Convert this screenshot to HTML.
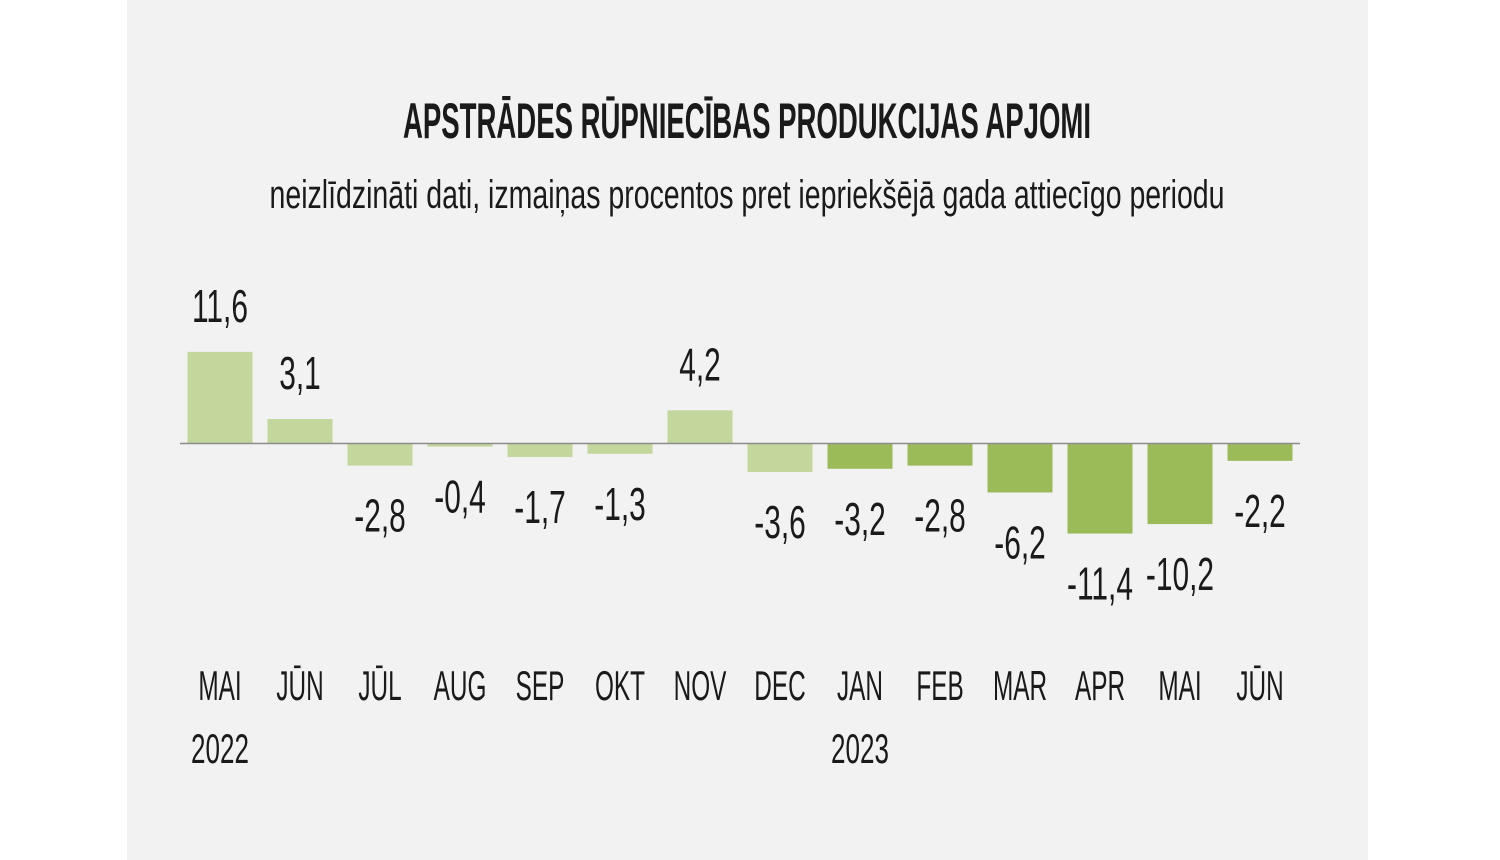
<!DOCTYPE html>
<html><head><meta charset="utf-8"><style>
html,body{margin:0;padding:0;background:#fff;}
svg{display:block;}
text{font-family:"Liberation Sans Narrow","Liberation Sans",sans-serif;fill:#1a1a1a;}
</style></head><body>
<svg id="chart" width="1500" height="860" viewBox="0 0 1500 860">
<rect x="127" y="0" width="1241" height="860" fill="#f2f2f2"/>
<text x="747" y="138" text-anchor="middle" font-size="50" font-weight="bold" textLength="688" lengthAdjust="spacingAndGlyphs">APSTRĀDES RŪPNIECĪBAS PRODUKCIJAS APJOMI</text>
<text x="747" y="208" text-anchor="middle" font-size="40" textLength="955" lengthAdjust="spacingAndGlyphs" fill="#333">neizlīdzināti dati, izmaiņas procentos pret iepriekšējā gada attiecīgo periodu</text>
<g id="bars"></g>
<line x1="180" y1="443.5" x2="1300" y2="443.5" stroke="#8c8c8c" stroke-width="1.5"/>
<g id="labels"></g>
</svg>
<script>
const categories = ["MAI","JŪN","JŪL","AUG","SEP","OKT","NOV","DEC","JAN","FEB","MAR","APR","MAI","JŪN"];
const years = ["2022","","","","","","","","2023","","","","",""];
const values = [11.6,3.1,-2.8,-0.4,-1.7,-1.3,4.2,-3.6,-3.2,-2.8,-6.2,-11.4,-10.2,-2.2];
const valueLabels = ["11,6","3,1","-2,8","-0,4","-1,7","-1,3","4,2","-3,6","-3,2","-2,8","-6,2","-11,4","-10,2","-2,2"];
const yearIndex = [2022,2022,2022,2022,2022,2022,2022,2022,2023,2023,2023,2023,2023,2023];

const NS = "http://www.w3.org/2000/svg";
const x = i => 220 + i*80;
const y = v => 443.5 - v*7.9;
const bars = document.getElementById('bars');
const labels = document.getElementById('labels');
function txt(parent, str, cx, cy, size, sx){
  const t = document.createElementNS(NS,'text');
  t.setAttribute('transform', `translate(${cx},${cy}) scale(${sx},1)`);
  t.setAttribute('text-anchor','middle');
  t.setAttribute('font-size', size);
  t.textContent = str;
  parent.appendChild(t);
  return t;
}
values.forEach((v,i)=>{
  const r = document.createElementNS(NS,'rect');
  const y0 = Math.min(y(v), y(0)), h = Math.abs(y(v)-y(0));
  r.setAttribute('x', x(i)-32.5);
  r.setAttribute('y', y0);
  r.setAttribute('width', 65);
  r.setAttribute('height', h);
  r.setAttribute('fill', yearIndex[i]===2022 ? '#c3d69b' : '#9bbb59');
  
  
  bars.appendChild(r);
  const ly = v >= 0 ? y(v) - 30 : y(v) + 66;
  const vl = txt(labels, valueLabels[i], x(i), ly, 46, 0.65);
  
  
  const ml = txt(labels, categories[i], x(i), 700, 42, 0.58);
  
  
  if (years[i]) {
    const yl = txt(labels, years[i], x(i), 763, 42, 0.62);
    
    
  }
});
</script>
</body></html>
